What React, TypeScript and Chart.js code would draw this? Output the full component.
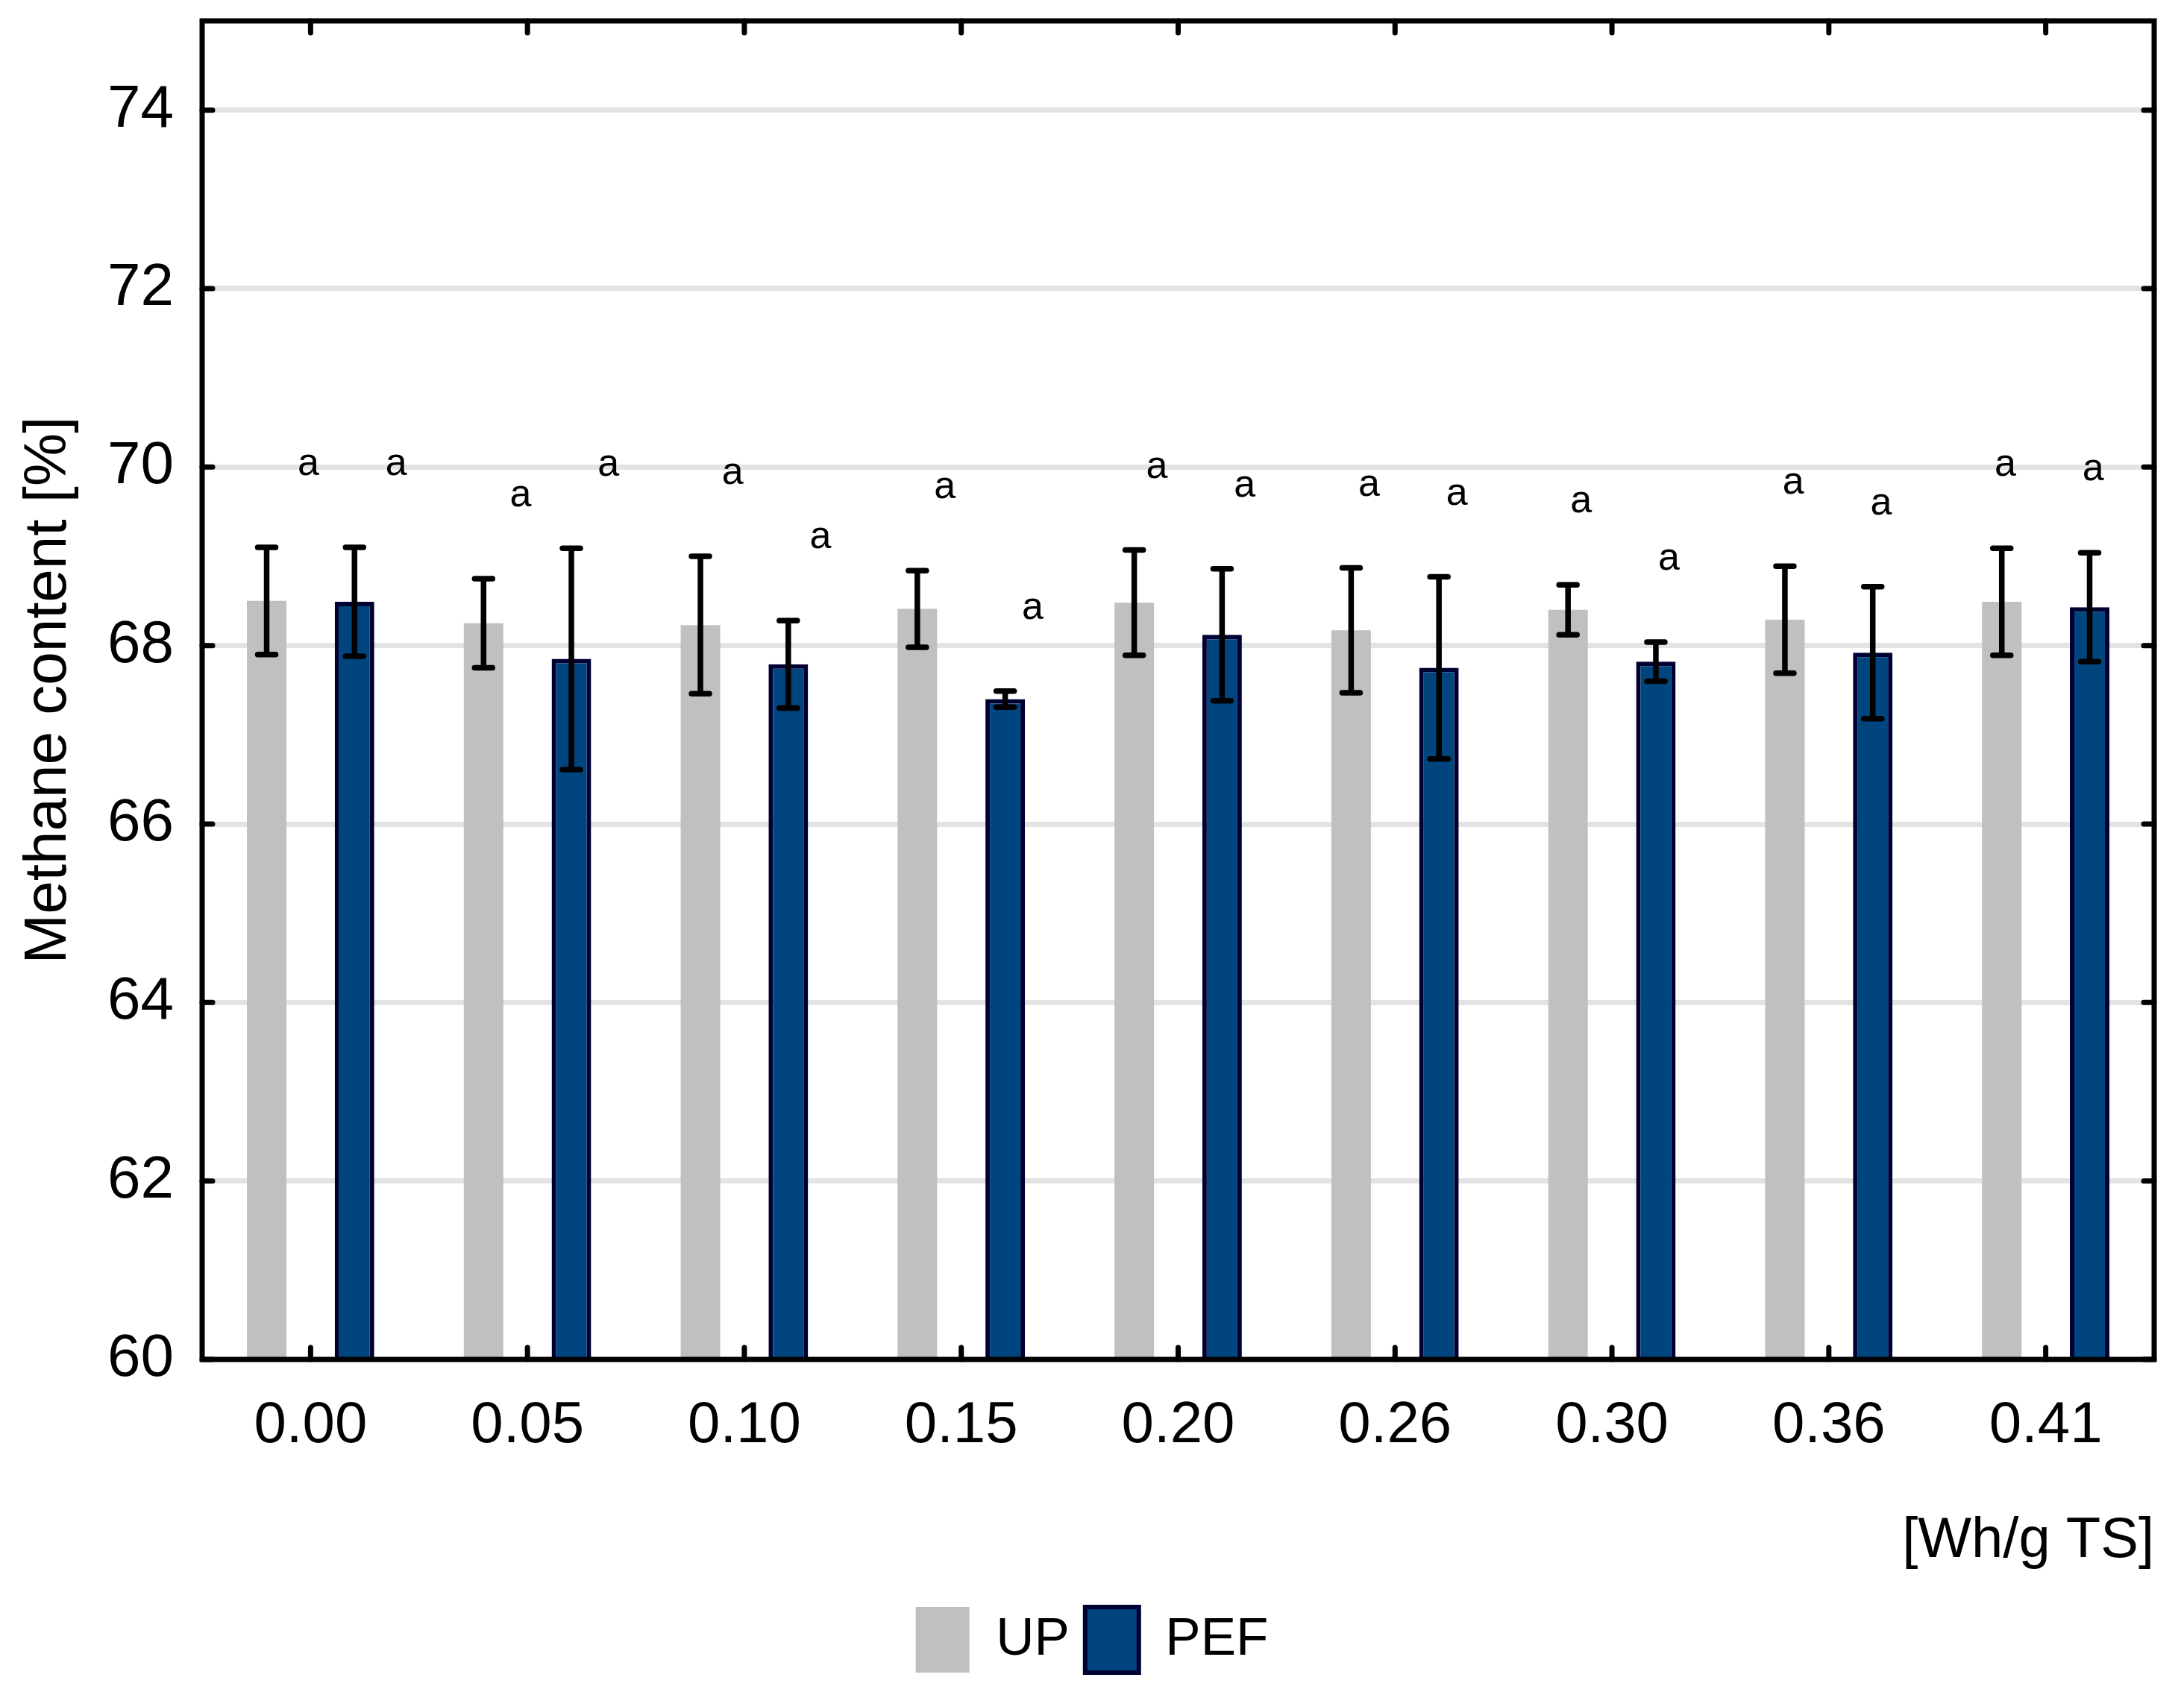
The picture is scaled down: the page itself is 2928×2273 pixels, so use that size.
import React, { useEffect, useRef } from 'react';
import { Chart, registerables } from 'chart.js';

Chart.register(...registerables);

const categories = ['0.00', '0.05', '0.10', '0.15', '0.20', '0.26', '0.30', '0.36', '0.41'];
const upMeans = [68.5, 68.25, 68.23, 68.41, 68.48, 68.17, 68.4, 68.29, 68.49];
const upErrors = [0.6, 0.5, 0.77, 0.43, 0.59, 0.7, 0.28, 0.6, 0.6];
const pefMeans = [68.49, 67.85, 67.79, 67.4, 68.12, 67.75, 67.82, 67.92, 68.43];
const pefErrors = [0.61, 1.24, 0.49, 0.09, 0.74, 1.02, 0.22, 0.74, 0.61];
const upLetters = ['a', 'a', 'a', 'a', 'a', 'a', 'a', 'a', 'a'];
const pefLetters = ['a', 'a', 'a', 'a', 'a', 'a', 'a', 'a', 'a'];
const yMin = 60;
const yMax = 75;
const yStep = 2;

const FONT = '"Liberation Sans", Arial, Helvetica, sans-serif';

const errorBarPlugin = {
  id: 'errorBars',
  afterDatasetsDraw(chart: any) {
    const ctx = chart.ctx;
    const y = chart.scales.y;
    ctx.save();
    ctx.strokeStyle = '#000000';
    ctx.lineWidth = 7.5;
    ctx.lineCap = 'round';
    chart.data.datasets.forEach((ds: any, di: number) => {
      const meta = chart.getDatasetMeta(di);
      meta.data.forEach((bar: any, i: number) => {
        const v = ds.data[i];
        const e = ds.errors[i];
        const yt = y.getPixelForValue(v + e);
        const yb = y.getPixelForValue(v - e);
        const x = bar.x;
        ctx.beginPath();
        ctx.moveTo(x, yt);
        ctx.lineTo(x, yb);
        ctx.moveTo(x - 12, yt);
        ctx.lineTo(x + 12, yt);
        ctx.moveTo(x - 12, yb);
        ctx.lineTo(x + 12, yb);
        ctx.stroke();
      });
    });
    ctx.restore();
  },
};

const letterPlugin = {
  id: 'letters',
  afterDatasetsDraw(chart: any) {
    const ctx = chart.ctx;
    const y = chart.scales.y;
    ctx.save();
    ctx.fillStyle = '#000000';
    ctx.font = `52px ${FONT}`;
    ctx.textAlign = 'center';
    ctx.textBaseline = 'alphabetic';
    chart.data.datasets.forEach((ds: any, di: number) => {
      const meta = chart.getDatasetMeta(di);
      meta.data.forEach((bar: any, i: number) => {
        const top = y.getPixelForValue(ds.data[i] + ds.errors[i]);
        const shift = 56 - 6.4 * i;
        ctx.fillText(ds.letters[i], bar.x + shift, top - 97);
      });
    });
    ctx.restore();
  },
};

const framePlugin = {
  id: 'frame',
  afterDatasetsDraw(chart: any) {
    const ctx = chart.ctx;
    const { left, right, top, bottom } = chart.chartArea;
    const y = chart.scales.y;
    const x = chart.scales.x;
    ctx.save();
    ctx.strokeStyle = '#000000';
    ctx.lineWidth = 7;
    ctx.lineCap = 'round';
    y.ticks.forEach((t: any) => {
      const py = y.getPixelForValue(t.value);
      ctx.beginPath();
      ctx.moveTo(left, py);
      ctx.lineTo(left + 14, py);
      ctx.moveTo(right, py);
      ctx.lineTo(right - 14, py);
      ctx.stroke();
    });
    x.ticks.forEach((_t: any, i: number) => {
      const px = x.getPixelForTick(i);
      ctx.beginPath();
      ctx.moveTo(px, bottom);
      ctx.lineTo(px, bottom - 16);
      ctx.moveTo(px, top);
      ctx.lineTo(px, top + 16);
      ctx.stroke();
    });
    ctx.lineCap = 'butt';
    ctx.lineJoin = 'miter';
    ctx.strokeRect(left, top, right - left, bottom - top);
    ctx.restore();
  },
};

export default function App() {
  const ref = useRef<HTMLCanvasElement | null>(null);

  useEffect(() => {
    document.body.style.margin = '0';
    document.body.style.overflow = 'hidden';
    const canvas = ref.current;
    if (!canvas) return;
    const chart = new Chart(canvas, {
      type: 'bar',
      data: {
        labels: categories,
        datasets: [
          {
            label: 'UP',
            data: upMeans,
            errors: upErrors,
            letters: upLetters,
            backgroundColor: '#C0C0C0',
            borderColor: '#C0C0C0',
            borderWidth: 0,
            categoryPercentage: 0.81,
            barPercentage: 0.45,
          } as any,
          {
            label: 'PEF',
            data: pefMeans,
            errors: pefErrors,
            letters: pefLetters,
            backgroundColor: '#00457E',
            borderColor: '#000033',
            borderWidth: 6,
            borderSkipped: false,
            categoryPercentage: 0.81,
            barPercentage: 0.45,
          } as any,
        ],
      },
      options: {
        animation: false,
        responsive: false,
        maintainAspectRatio: false,
        devicePixelRatio: 1,
        layout: { padding: { left: 40, right: 40, top: 28, bottom: 20 } },
        plugins: {
          tooltip: { enabled: false },
          legend: {
            position: 'bottom',
            labels: {
              font: { family: FONT, size: 71 },
              color: '#000000',
              boxWidth: 72,
              boxHeight: 88,
              padding: 21,
            },
          },
        },
        scales: {
          x: {
            type: 'category',
            grid: { display: false, drawTicks: false },
            border: { display: false },
            ticks: {
              font: { family: FONT, size: 78 },
              color: '#000000',
              padding: 43,
              maxRotation: 0,
            },
            title: {
              display: true,
              text: '[Wh/g TS]',
              align: 'end',
              color: '#000000',
              font: { family: FONT, size: 76 },
              padding: { top: 0, bottom: 21 },
            },
            afterFit: (scale: any) => {
              scale.height = 311;
              scale.paddingLeft = 0;
              scale.paddingRight = 0;
            },
          },
          y: {
            min: yMin,
            max: yMax,
            grid: { color: '#E3E3E3', lineWidth: 7, drawTicks: false },
            border: { display: false },
            ticks: {
              stepSize: yStep,
              includeBounds: false,
              font: { family: FONT, size: 80 },
              color: '#000000',
              padding: 38,
            },
            title: {
              display: true,
              text: 'Methane content [%]',
              color: '#000000',
              font: { family: FONT, size: 80 },
              padding: { top: -22, bottom: 0 },
            },
            afterFit: (scale: any) => {
              scale.width = 231;
              scale.paddingTop = 0;
              scale.paddingBottom = 0;
            },
          },
        },
      } as any,
      plugins: [errorBarPlugin, framePlugin, letterPlugin],
    });
    return () => chart.destroy();
  }, []);

  return (
    <canvas
      ref={ref}
      width={2928}
      height={2273}
      style={{ display: 'block', width: '2928px', height: '2273px' }}
    />
  );
}
